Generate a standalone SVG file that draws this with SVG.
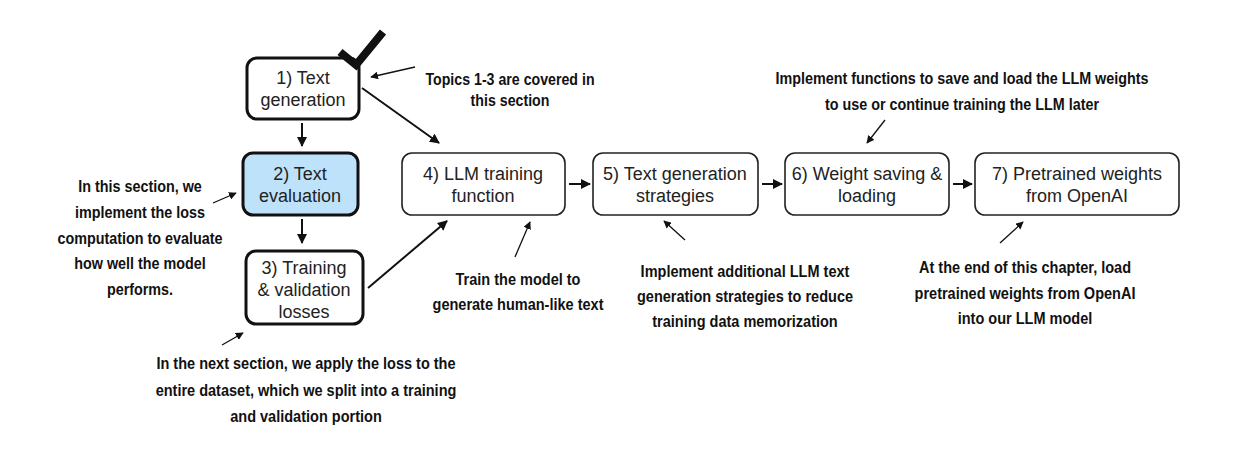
<svg xmlns="http://www.w3.org/2000/svg" width="1245" height="474" viewBox="0 0 1245 474">
<style>
.nt{font-family:"Liberation Sans",Arial,sans-serif;font-size:18px;fill:#222;text-anchor:middle}
.an{font-family:"Liberation Sans",Arial,sans-serif;font-weight:bold;font-size:16.5px;fill:#111;text-anchor:middle}
.thick{fill:#fff;stroke:#111;stroke-width:3}
.thin{fill:#fff;stroke:#222;stroke-width:1.6}
.c{stroke:#111;stroke-width:2;fill:none;marker-end:url(#ah)}
.p{stroke:#111;stroke-width:1.3;fill:none;marker-end:url(#ahs)}
</style>
<defs>
<marker id="ah" viewBox="0 0 10 10" refX="9" refY="5" markerWidth="5" markerHeight="5" orient="auto" markerUnits="strokeWidth"><path d="M0,0 L10,5 L0,10 z" fill="#111"/></marker>
<marker id="ahs" viewBox="0 0 10 10" refX="9" refY="5" markerWidth="6" markerHeight="6" orient="auto" markerUnits="strokeWidth"><path d="M0,0 L10,5 L0,10 z" fill="#111"/></marker>
</defs>
<rect width="1245" height="474" fill="#fff"/>

<g id="n1">
<rect class="thick" x="247" y="58" width="112" height="61" rx="10"/>
<path d="M340,52 L356,65 L383,32" stroke="#111" stroke-width="8" fill="none"/>
<text class="nt" x="303" y="84">1) Text</text>
<text class="nt" x="303" y="106">generation</text>
</g>
<g id="n2">
<rect x="243" y="153" width="115" height="62" rx="10" fill="#bfe2fb" stroke="#111" stroke-width="3"/>
<text class="nt" x="300" y="180">2) Text</text>
<text class="nt" x="300" y="202">evaluation</text>
</g>
<g id="n3">
<rect class="thick" x="246" y="251" width="117" height="73" rx="10"/>
<text class="nt" x="304" y="274">3) Training</text>
<text class="nt" x="304" y="296">&amp; validation</text>
<text class="nt" x="304" y="318">losses</text>
</g>
<g id="n4">
<rect class="thin" x="402" y="153" width="163" height="62" rx="10"/>
<text class="nt" x="483" y="180">4) LLM training</text>
<text class="nt" x="483" y="202">function</text>
</g>
<g id="n5">
<rect class="thin" x="593" y="153" width="165" height="62" rx="10"/>
<text class="nt" x="675" y="180">5) Text generation</text>
<text class="nt" x="675" y="202">strategies</text>
</g>
<g id="n6">
<rect class="thin" x="785" y="153" width="164" height="62" rx="10"/>
<text class="nt" x="867" y="180">6) Weight saving &amp;</text>
<text class="nt" x="867" y="202">loading</text>
</g>
<g id="n7">
<rect class="thin" x="975" y="153" width="204" height="62" rx="10"/>
<text class="nt" x="1077" y="180">7) Pretrained weights</text>
<text class="nt" x="1077" y="202">from OpenAI</text>
</g>

<g id="connectors">
<path class="c" d="M302,123 L302,146"/>
<path class="c" d="M302,219 L302,243"/>
<path class="c" d="M362,88 L439,143"/>
<path class="c" d="M368,288 L447,221"/>
<path class="c" d="M569,184 L590,184"/>
<path class="c" d="M762,184 L782,184"/>
<path class="c" d="M953,184 L972,184"/>
<path class="p" d="M415,67 L371,77"/>
<path class="p" d="M213,203 L236,193"/>
<path class="p" d="M222,345 L243,333"/>
<path class="p" d="M515,257 L530,222"/>
<path class="p" d="M685,240 L664,221"/>
<path class="p" d="M885,120 L867,143"/>
<path class="p" d="M1000,243 L1023,222"/>
</g>

<g id="annotations">
<g transform="translate(510,0) scale(0.86,1)">
<text class="an" x="0" y="85">Topics 1-3 are covered in</text>
<text class="an" x="0" y="106">this section</text>
</g>
<g transform="translate(140,0) scale(0.87,1)">
<text class="an" x="0" y="192">In this section, we</text>
<text class="an" x="0" y="218">implement the loss</text>
<text class="an" x="0" y="244">computation to evaluate</text>
<text class="an" x="0" y="269">how well the model</text>
<text class="an" x="0" y="295">performs.</text>
</g>
<g transform="translate(306,0) scale(0.88,1)">
<text class="an" x="0" y="369">In the next section, we apply the loss to the</text>
<text class="an" x="0" y="396">entire dataset, which we split into a training</text>
<text class="an" x="0" y="422">and validation portion</text>
</g>
<g transform="translate(518,0) scale(0.88,1)">
<text class="an" x="0" y="285">Train the model to</text>
<text class="an" x="0" y="310">generate human-like text</text>
</g>
<g transform="translate(745,0) scale(0.88,1)">
<text class="an" x="0" y="277">Implement additional LLM text</text>
<text class="an" x="0" y="302">generation strategies to reduce</text>
<text class="an" x="0" y="327">training data memorization</text>
</g>
<g transform="translate(962,0) scale(0.87,1)">
<text class="an" x="0" y="84">Implement functions to save and load the LLM weights</text>
<text class="an" x="0" y="110">to use or continue training the LLM later</text>
</g>
<g transform="translate(1025,0) scale(0.88,1)">
<text class="an" x="0" y="273">At the end of this chapter, load</text>
<text class="an" x="0" y="299">pretrained weights from OpenAI</text>
<text class="an" x="0" y="324">into our LLM model</text>
</g>
</g>
</svg>
